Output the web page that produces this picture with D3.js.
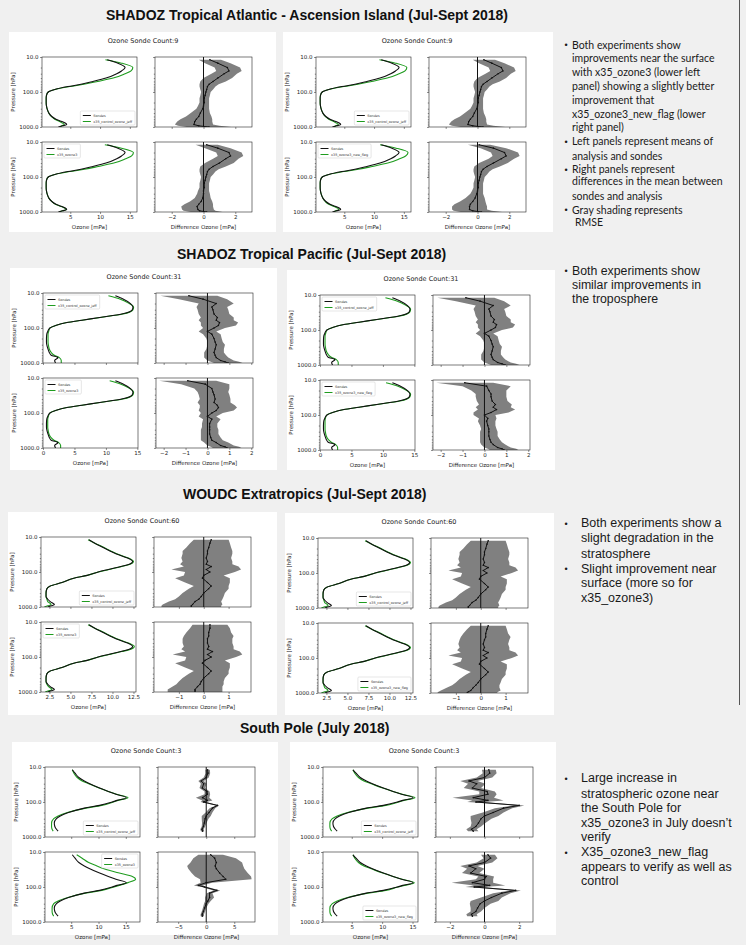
<!DOCTYPE html>
<html>
<head>
<meta charset="utf-8">
<script src="https://cdn.jsdelivr.net/npm/d3@7"></script>
<style>
  body { margin: 0; background: #f0f0f0; }
  svg { display: block; }
</style>
</head>
<body>
<svg id="slide" width="746" height="945"></svg>
<script>
// pressure levels [hPa]
var levels = [12, 15, 20, 25, 30, 40, 50, 60, 70, 85, 100, 125, 150, 200, 250, 300, 400, 500, 600, 700, 850, 925, 1000];
var levelsPole = [12, 15, 20, 25, 30, 40, 50, 60, 75, 90, 100, 125, 150, 200, 250, 300, 400, 500, 600, 680];
var yMajor = [10, 100, 1000];
var yMinor = [20, 30, 40, 50, 60, 70, 80, 90, 200, 300, 400, 500, 600, 700, 800, 900];

var labelCtrl = "x35_control_ozone_jeff", labelOz3 = "x35_ozone3", labelNew = "x35_ozone3_new_flag";

// SHADOZ Tropical Atlantic (mean ozone, mPa)
var atlSonde = [11.2, 13.0, 14.2, 13.6, 12.8, 11.0, 8.8, 6.8, 4.6, 2.4, 1.3, 1.0, 0.95, 0.95, 1.0, 1.1, 1.4, 1.9, 2.6, 3.6, 4.4, 3.7, 3.0];
var atlCtrl = [10.9, 13.6, 15.5, 15.2, 14.2, 12.2, 9.6, 7.3, 4.9, 2.4, 1.3, 1.0, 0.95, 0.95, 1.0, 1.1, 1.4, 1.8, 2.4, 3.2, 4.0, 3.6, 3.3];
var atlOz3 = [10.8, 13.6, 15.6, 15.3, 14.3, 12.3, 9.7, 7.4, 4.9, 2.4, 1.3, 1.0, 0.95, 0.95, 1.0, 1.1, 1.4, 1.9, 2.5, 3.5, 4.3, 3.7, 3.1];
var atlNew = [11.0, 13.7, 15.7, 15.3, 14.3, 12.3, 9.7, 7.4, 4.9, 2.4, 1.3, 1.0, 0.95, 0.95, 1.0, 1.1, 1.4, 1.8, 2.4, 3.3, 4.1, 3.6, 3.2];
var atlCtrlDiff = [0.4, 0.9, 1.5, 1.6, 1.3, 0.9, 0.6, 0.35, 0.25, 0.2, 0.15, 0.1, 0.05, 0.05, 0.0, -0.05, -0.2, -0.3, -0.45, -0.55, -0.6, -0.3, 0.35];
var atlCtrlRmse = [0.7, 0.8, 0.8, 0.8, 0.8, 0.9, 0.8, 0.6, 0.5, 0.4, 0.3, 0.3, 0.3, 0.3, 0.35, 0.4, 0.6, 0.8, 1.0, 1.1, 1.2, 1.3, 1.4];
var atlOz3Diff = [0.2, 0.9, 1.6, 1.7, 1.4, 1.0, 0.6, 0.35, 0.25, 0.2, 0.15, 0.1, 0.05, 0.05, 0.0, 0.0, -0.05, -0.15, -0.3, -0.4, -0.35, -0.25, 0.2];
var atlOz3Rmse = [0.7, 0.8, 0.8, 0.8, 0.8, 0.9, 0.8, 0.6, 0.5, 0.4, 0.3, 0.3, 0.3, 0.3, 0.35, 0.4, 0.5, 0.7, 0.9, 1.0, 1.0, 1.0, 1.0];
var atlNewDiff = [0.1, 1.0, 1.7, 1.8, 1.5, 1.0, 0.6, 0.35, 0.25, 0.2, 0.15, 0.1, 0.05, 0.05, 0.0, -0.05, -0.15, -0.3, -0.45, -0.5, -0.5, -0.3, 0.25];
var atlNewRmse = [0.7, 0.8, 0.85, 0.85, 0.8, 0.9, 0.8, 0.6, 0.5, 0.4, 0.3, 0.3, 0.3, 0.3, 0.35, 0.4, 0.6, 0.8, 1.0, 1.1, 1.1, 1.2, 1.3];

// SHADOZ Tropical Pacific
var pacSonde = [11.5, 12.8, 13.9, 14.3, 14.2, 12.5, 9.0, 6.2, 3.8, 2.0, 1.1, 0.75, 0.6, 0.55, 0.55, 0.6, 0.8, 1.0, 1.3, 2.4, 1.85, 1.9, 2.0];
var pacCtrl = [10.4, 12.3, 13.7, 14.4, 14.3, 12.7, 9.1, 6.2, 3.8, 2.0, 1.1, 0.9, 0.8, 0.8, 0.8, 0.85, 1.0, 1.3, 1.8, 2.6, 2.9, 2.9, 2.9];
var pacOz3 = [10.6, 12.4, 13.8, 14.4, 14.3, 12.7, 9.1, 6.2, 3.8, 2.0, 1.1, 0.85, 0.75, 0.75, 0.75, 0.8, 0.95, 1.25, 1.75, 2.5, 2.8, 2.8, 2.8];
var pacNew = [10.5, 12.4, 13.8, 14.4, 14.3, 12.7, 9.1, 6.2, 3.8, 2.0, 1.1, 0.85, 0.8, 0.8, 0.8, 0.85, 1.0, 1.3, 1.8, 2.5, 2.8, 2.8, 2.8];
var pacCtrlDiff = [-0.85, -0.2, 0.4, 0.2, 0.25, 0.3, 0.45, 0.4, 0.55, 0.5, 0.3, 0.0, 0.2, 0.3, 0.35, 0.4, 0.35, 0.3, 0.35, 0.4, 0.6, 0.8, 0.95];
var pacCtrlRmse = [1.3, 1.1, 0.8, 0.7, 0.7, 0.7, 0.75, 0.8, 0.85, 0.8, 0.5, 0.4, 0.4, 0.35, 0.35, 0.4, 0.4, 0.45, 0.5, 0.55, 0.6, 0.65, 0.65];
var pacOz3Diff = [-0.9, -0.1, 0.2, 0.25, 0.3, 0.35, 0.3, 0.45, 0.5, 0.4, 0.2, 0.0, 0.2, 0.1, 0.1, 0.1, 0.1, 0.15, 0.2, 0.4, 0.6, 0.8, 0.9];
var pacOz3Rmse = [1.3, 1.1, 0.8, 0.7, 0.7, 0.7, 0.75, 0.8, 0.85, 0.8, 0.5, 0.4, 0.4, 0.35, 0.35, 0.4, 0.4, 0.45, 0.5, 0.55, 0.6, 0.65, 0.65];
var pacNewDiff = [-0.9, 0.1, 0.2, 0.3, 0.3, 0.35, 0.5, 0.4, 0.55, 0.3, 0.0, 0.15, 0.1, 0.15, 0.2, 0.2, 0.2, 0.25, 0.3, 0.4, 0.6, 0.8, 0.9];
var pacNewRmse = [1.3, 1.1, 0.8, 0.7, 0.7, 0.7, 0.75, 0.8, 0.85, 0.8, 0.5, 0.4, 0.4, 0.35, 0.35, 0.4, 0.4, 0.45, 0.5, 0.55, 0.6, 0.65, 0.65];

// WOUDC Extratropics
var wouSonde = [7.2, 7.9, 8.9, 9.7, 10.4, 11.8, 12.4, 12.0, 11.0, 9.5, 8.3, 7.0, 5.4, 4.0, 2.6, 2.2, 2.1, 2.1, 2.3, 2.6, 3.1, 2.7, 2.3];
var wouCtrl = [7.1, 7.9, 9.0, 9.8, 10.5, 11.9, 12.5, 12.1, 11.1, 9.6, 8.3, 7.0, 5.4, 4.0, 2.6, 2.2, 2.1, 2.1, 2.2, 2.3, 2.7, 2.3, 1.9];
var wouOz3 = [7.1, 7.9, 9.0, 9.8, 10.5, 11.9, 12.6, 12.2, 11.1, 9.6, 8.3, 7.0, 5.4, 4.0, 2.6, 2.2, 2.1, 2.1, 2.2, 2.4, 2.8, 2.4, 2.0];
var wouNew = [7.1, 7.9, 9.0, 9.8, 10.5, 11.9, 12.5, 12.1, 11.1, 9.6, 8.3, 7.0, 5.4, 4.0, 2.6, 2.2, 2.1, 2.1, 2.2, 2.3, 2.7, 2.3, 1.9];
var wouCtrlDiff = [0.3, 0.25, 0.2, 0.15, 0.15, 0.1, 0.15, 0.1, 0.3, 0.1, 0.25, 0.0, -0.05, 0.15, 0.3, 0.2, 0.0, -0.1, -0.2, -0.35, -0.45, -0.5, -0.5];
var wouCtrlRmse = [0.7, 0.8, 0.9, 1.0, 1.0, 1.0, 1.0, 1.05, 1.1, 1.4, 1.0, 0.8, 1.1, 0.9, 0.7, 0.8, 0.85, 0.9, 0.95, 1.05, 1.2, 1.2, 1.2];
var wouOz3Diff = [0.25, 0.25, 0.2, 0.2, 0.15, 0.15, 0.2, 0.15, 0.35, 0.15, 0.3, 0.05, -0.05, 0.15, 0.3, 0.2, 0.0, -0.1, -0.15, -0.25, -0.35, -0.35, -0.35];
var wouOz3Rmse = [0.7, 0.8, 0.9, 1.0, 1.0, 1.0, 1.0, 1.05, 1.1, 1.4, 1.0, 0.8, 1.1, 0.9, 0.7, 0.8, 0.85, 0.9, 0.95, 1.0, 1.1, 1.1, 1.1];
var wouNewDiff = [0.3, 0.25, 0.2, 0.2, 0.15, 0.1, 0.15, 0.1, 0.3, 0.1, 0.25, 0.0, -0.05, 0.15, 0.3, 0.2, 0.0, -0.1, -0.2, -0.3, -0.4, -0.5, -0.55];
var wouNewRmse = [0.7, 0.8, 0.9, 1.0, 1.0, 1.0, 1.0, 1.05, 1.1, 1.4, 1.0, 0.8, 1.1, 0.9, 0.7, 0.8, 0.85, 0.9, 0.95, 1.05, 1.2, 1.2, 1.2];

// South Pole (July)
var spSonde = [5.2, 5.7, 6.4, 7.4, 8.4, 10.2, 11.8, 13.2, 15.1, 13.4, 12.5, 10.2, 7.4, 4.5, 3.0, 2.3, 1.9, 2.0, 2.3, 2.6];
var spCtrl = [5.2, 5.5, 6.1, 7.0, 8.2, 10.1, 11.8, 13.3, 15.4, 13.6, 12.7, 10.6, 7.7, 4.3, 2.6, 1.8, 1.4, 1.4, 1.5, 1.7];
var spOz3 = [6.0, 7.0, 8.2, 9.7, 11.0, 13.8, 16.2, 16.8, 15.4, 13.8, 12.8, 10.6, 7.6, 4.4, 2.6, 1.8, 1.5, 1.5, 1.6, 1.8];
var spNew = [5.2, 5.5, 6.1, 7.0, 8.2, 10.1, 11.8, 13.3, 15.3, 13.7, 12.6, 10.6, 7.7, 4.3, 2.6, 1.8, 1.4, 1.4, 1.5, 1.7];
var spCtrlDiff = [0.25, 0.3, 0.0, -0.9, -0.45, -0.7, 0.15, 0.2, -0.65, 0.2, -0.5, 2.0, 1.1, 0.5, 0.0, -0.2, -0.35, -0.5, -0.75, -0.65];
var spCtrlRmse = [0.4, 0.4, 0.45, 0.5, 0.5, 0.5, 0.45, 0.5, 1.2, 0.9, 0.5, 0.3, 0.5, 0.6, 0.8, 0.6, 0.4, 0.3, 0.3, 0.3];
var spOz3Diff = [0.8, 1.5, 1.8, 1.6, 1.8, 2.4, 3.0, 3.5, 0.0, -1.4, -0.3, 1.9, 0.6, 0.6, 0.3, 0.0, -0.3, -0.5, -0.7, -0.7];
var spOz3Rmse = [2.2, 3.8, 4.6, 5.0, 5.0, 5.0, 5.0, 4.6, 1.0, 0.8, 0.5, 0.6, 0.5, 0.8, 0.5, 0.4, 0.3, 0.3, 0.3, 0.3];
var spNewDiff = [0.2, 0.35, 0.0, -0.9, -0.5, -0.8, 0.1, 0.0, -0.7, 0.3, -0.6, 1.8, 1.0, 0.4, 0.0, -0.25, -0.4, -0.5, -0.75, -0.7];
var spNewRmse = [0.4, 0.4, 0.45, 0.5, 0.5, 0.5, 0.45, 0.5, 1.2, 0.9, 0.5, 0.3, 0.5, 0.6, 0.8, 0.6, 0.4, 0.3, 0.3, 0.3];

// tick labels
var profTicksAtl = [5, 10, 15], diffTicksAtl = [-2, 0, 2];
var profTicksPac = [0, 5, 10, 15], diffTicksPac = [-2, -1, 0, 1, 2];
var profTicksWou = [2.5, 5.0, 7.5, 10.0, 12.5], diffTicksWou = [-1, 0, 1];
var profTicksSp = [5, 10, 15], diffTicksSpL = [-5, 0, 5], diffTicksSpR = [-2, 0, 2];

var sectionTitles = [
    "SHADOZ Tropical Atlantic - Ascension Island (Jul-Sept 2018)",
    "SHADOZ Tropical Pacific (Jul-Sept 2018)",
    "WOUDC Extratropics (Jul-Sept 2018)",
    "South Pole (July 2018)"
];

var notesAtl = ["Both experiments  show", "improvements near the surface", "with x35_ozone3 (lower left",
    "panel) showing a slightly better", "improvement that", "x35_ozone3_new_flag (lower", "right panel)",
    "Left panels represent means of", "analysis and sondes", "Right panels represent",
    "differences in the mean between", "sondes and analysis", "Gray shading represents", "RMSE"];
var notesPac = ["Both experiments  show", "similar improvements in", "the troposphere"];
var notesWou = ["Both experiments show a", "slight degradation in the", "stratosphere",
    "Slight improvement near", "surface (more so for", "x35_ozone3)"];
var notesSp = ["Large increase in", "stratospheric ozone near", "the South Pole for",
    "x35_ozone3 in July doesn\u2019t", "verify", "X35_ozone3_new_flag", "appears to verify as well as", "control"];

var svg = d3.select("#slide");
var axFont = "DejaVu Sans, sans-serif";
var green = "#1f9c1f";
var clipId = 0;

svg.append("rect").attr("width", 746).attr("height", 945).attr("fill", "#f0f0f0");
svg.append("line").attr("x1", 739.5).attr("x2", 739.5).attr("y1", 0).attr("y2", 705)
    .attr("stroke", "#555").attr("stroke-width", 1);

// section titles
var titlePos = [[106, 20], [177, 259], [183, 499], [240, 733]];
sectionTitles.forEach(function (t, i) {
    svg.append("text")
        .attr("x", titlePos[i][0]).attr("y", titlePos[i][1])
        .style("font", "bold 14px 'Liberation Sans', Arial, sans-serif")
        .attr("fill", "#111")
        .text(t);
});

function styleAxis(sel) {
    sel.select(".domain").remove();
    sel.selectAll("line").attr("stroke", "#222").attr("stroke-width", 0.5);
    sel.selectAll("text").attr("fill", "#222").attr("font-size", 5.5).attr("font-family", axFont);
}

function legend(g, x0, x1, y0, y1, label, pos) {
    var lg = g.append("g");
    var box = lg.append("rect").attr("fill", "#fff").attr("stroke", "#ccc").attr("stroke-width", 0.5)
        .attr("rx", 1).attr("height", 14);
    var t1 = lg.append("text").attr("x", 13).attr("y", 5.6).text("Sondes");
    var t2 = lg.append("text").attr("x", 13).attr("y", 11.6).text(label);
    lg.selectAll("text").attr("font-size", 3.4).attr("font-family", axFont).attr("fill", "#333");
    lg.append("line").attr("x1", 2.5).attr("x2", 10.5).attr("y1", 4.5).attr("y2", 4.5).attr("stroke", "#111").attr("stroke-width", 1);
    lg.append("line").attr("x1", 2.5).attr("x2", 10.5).attr("y1", 10.5).attr("y2", 10.5).attr("stroke", green).attr("stroke-width", 1);
    var w = 13 + Math.max(t1.node().getComputedTextLength(), t2.node().getComputedTextLength()) + 3;
    box.attr("width", w);
    var lx = pos == "ul" ? x0 + 2 : x1 - 2 - w;
    var ly = pos == "lr" ? y1 - 2 - 14 : y0 + 2;
    lg.attr("transform", "translate(" + lx + "," + ly + ")");
}

function drawFigure(f) {
    var g = svg.append("g");
    g.append("rect").attr("x", f.x0).attr("y", f.y0).attr("width", f.w).attr("height", f.h).attr("fill", "#fff");
    g.append("text").attr("x", f.x0 + 134).attr("y", f.y0 + 10.5).attr("text-anchor", "middle")
        .attr("font-size", 6.5).attr("font-family", axFont).attr("fill", "#222")
        .text("Ozone Sonde Count:" + f.count);

    var px0 = f.x0 + 33, px1 = f.x0 + 128, dx0 = f.x0 + 146, dx1 = f.x0 + 243;
    var xProf = d3.scaleLinear().domain(f.profDomain).range([px0, px1]);
    var xDiff = d3.scaleLinear().domain(f.diffDomain).range([dx0, dx1]);

    f.rows.forEach(function (row, i) {
        var top = f.y0 + (i == 0 ? 25 : 110), bottom = top + 70;
        var y = d3.scaleLog().domain([10, 1000]).range([top, bottom]);
        var last = i == f.rows.length - 1;

        // profile panel
        var id1 = "c" + (clipId++);
        g.append("clipPath").attr("id", id1).append("rect")
            .attr("x", px0).attr("y", top).attr("width", px1 - px0).attr("height", 70);
        var prof = g.append("g").attr("clip-path", "url(#" + id1 + ")");
        var line = d3.line().curve(d3.curveMonotoneY)
            .x(function (d) { return xProf(d[1]); })
            .y(function (d) { return y(d[0]); });
        prof.append("path").datum(d3.zip(f.levels, row.model)).attr("d", line)
            .attr("fill", "none").attr("stroke", green).attr("stroke-width", 1.1);
        prof.append("path").datum(d3.zip(f.levels, f.sonde)).attr("d", line)
            .attr("fill", "none").attr("stroke", "#111").attr("stroke-width", 1.1);

        // difference panel
        var id2 = "c" + (clipId++);
        g.append("clipPath").attr("id", id2).append("rect")
            .attr("x", dx0).attr("y", top).attr("width", dx1 - dx0).attr("height", 70);
        var dif = g.append("g").attr("clip-path", "url(#" + id2 + ")");
        var pts = f.levels.map(function (p, k) { return { p: p, m: row.diff[k], r: row.rmse[k] }; });
        dif.append("path").datum(pts)
            .attr("d", d3.area()
                .y(function (d) { return y(d.p); })
                .x0(function (d) { return xDiff(d.m - d.r); })
                .x1(function (d) { return xDiff(d.m + d.r); }))
            .attr("fill", "#808080");
        dif.append("line").attr("x1", xDiff(0)).attr("x2", xDiff(0)).attr("y1", top).attr("y2", bottom)
            .attr("stroke", "#111").attr("stroke-width", 1);
        dif.append("path").datum(pts)
            .attr("d", d3.line().x(function (d) { return xDiff(d.m); }).y(function (d) { return y(d.p); }))
            .attr("fill", "none").attr("stroke", "#111").attr("stroke-width", 1);
        dif.selectAll("circle").data(pts).enter().append("circle")
            .attr("cx", function (d) { return xDiff(d.m); })
            .attr("cy", function (d) { return y(d.p); })
            .attr("r", 0.8).attr("fill", "#111");

        // axes
        [[px0, px1, xProf, f.profTicks, f.profFmt, true], [dx0, dx1, xDiff, f.diffTicks, d3.format("d"), false]]
            .forEach(function (a) {
                g.append("rect").attr("x", a[0]).attr("y", top).attr("width", a[1] - a[0]).attr("height", 70)
                    .attr("fill", "none").attr("stroke", "#222").attr("stroke-width", 0.6);
                g.append("g").attr("transform", "translate(0," + bottom + ")")
                    .call(d3.axisBottom(a[2]).tickValues(a[3]).tickSize(2).tickPadding(1.5)
                        .tickFormat(last ? a[4] : ""))
                    .call(styleAxis);
                g.append("g").attr("transform", "translate(" + a[0] + ",0)")
                    .call(d3.axisLeft(y).tickValues(yMajor).tickSize(2).tickPadding(1.5)
                        .tickFormat(a[5] ? d3.format(".1f") : ""))
                    .call(styleAxis);
                g.append("g").attr("transform", "translate(" + a[0] + ",0)")
                    .call(d3.axisLeft(y).tickValues(yMinor).tickSize(1.2).tickFormat(""))
                    .call(styleAxis);
            });

        g.append("text")
            .attr("transform", "translate(" + (f.x0 + 6) + "," + (top + 35) + ") rotate(-90)")
            .attr("text-anchor", "middle").attr("font-size", 5.5).attr("font-family", axFont).attr("fill", "#222")
            .text("Pressure [hPa]");

        legend(g, px0, px1, top, bottom, row.label, row.legend);

        if (last) {
            g.append("text").attr("x", (px0 + px1) / 2).attr("y", bottom + 16.5).attr("text-anchor", "middle")
                .attr("font-size", 5.5).attr("font-family", axFont).attr("fill", "#222").text("Ozone [mPa]");
            g.append("text").attr("x", (dx0 + dx1) / 2).attr("y", bottom + 16.5).attr("text-anchor", "middle")
                .attr("font-size", 5.5).attr("font-family", axFont).attr("fill", "#222").text("Difference Ozone [mPa]");
        }
    });
}

var fmtInt = d3.format("d"), fmtOne = d3.format(".1f");

var figures = [
    { x0: 9, y0: 32, w: 267, h: 200, count: 9, levels: levels, sonde: atlSonde,
      profDomain: [0.25, 16.2], profTicks: profTicksAtl, profFmt: fmtInt, diffDomain: [-3.05, 3.05], diffTicks: diffTicksAtl,
      rows: [{ model: atlCtrl, label: labelCtrl, diff: atlCtrlDiff, rmse: atlCtrlRmse, legend: "lr" },
             { model: atlOz3, label: labelOz3, diff: atlOz3Diff, rmse: atlOz3Rmse, legend: "ul" }] },
    { x0: 283, y0: 32, w: 270, h: 200, count: 9, levels: levels, sonde: atlSonde,
      profDomain: [0.25, 16.2], profTicks: profTicksAtl, profFmt: fmtInt, diffDomain: [-3.05, 3.05], diffTicks: diffTicksAtl,
      rows: [{ model: atlCtrl, label: labelCtrl, diff: atlCtrlDiff, rmse: atlCtrlRmse, legend: "lr" },
             { model: atlNew, label: labelNew, diff: atlNewDiff, rmse: atlNewRmse, legend: "ul" }] },
    { x0: 10, y0: 268, w: 267, h: 202, count: 31, levels: levels, sonde: pacSonde,
      profDomain: [0, 15.1], profTicks: profTicksPac, profFmt: fmtInt, diffDomain: [-2.35, 2.08], diffTicks: diffTicksPac,
      rows: [{ model: pacCtrl, label: labelCtrl, diff: pacCtrlDiff, rmse: pacCtrlRmse, legend: "ul" },
             { model: pacOz3, label: labelOz3, diff: pacOz3Diff, rmse: pacOz3Rmse, legend: "ul" }] },
    { x0: 287, y0: 270, w: 268, h: 200, count: 31, levels: levels, sonde: pacSonde,
      profDomain: [0, 15.1], profTicks: profTicksPac, profFmt: fmtInt, diffDomain: [-2.35, 2.08], diffTicks: diffTicksPac,
      rows: [{ model: pacCtrl, label: labelCtrl, diff: pacCtrlDiff, rmse: pacCtrlRmse, legend: "ul" },
             { model: pacNew, label: labelNew, diff: pacNewDiff, rmse: pacNewRmse, legend: "ul" }] },
    { x0: 8, y0: 512, w: 269, h: 203, count: 60, levels: levels, sonde: wouSonde,
      profDomain: [1.5, 12.8], profTicks: profTicksWou, profFmt: fmtOne, diffDomain: [-2.0, 1.9], diffTicks: diffTicksWou,
      rows: [{ model: wouCtrl, label: labelCtrl, diff: wouCtrlDiff, rmse: wouCtrlRmse, legend: "lr" },
             { model: wouOz3, label: labelOz3, diff: wouOz3Diff, rmse: wouOz3Rmse, legend: "ul" }] },
    { x0: 285, y0: 513, w: 269, h: 202, count: 60, levels: levels, sonde: wouSonde,
      profDomain: [1.5, 12.8], profTicks: profTicksWou, profFmt: fmtOne, diffDomain: [-2.0, 1.9], diffTicks: diffTicksWou,
      rows: [{ model: wouCtrl, label: labelCtrl, diff: wouCtrlDiff, rmse: wouCtrlRmse, legend: "lr" },
             { model: wouNew, label: labelNew, diff: wouNewDiff, rmse: wouNewRmse, legend: "lr" }] },
    { x0: 12, y0: 742, w: 266, h: 193, count: 3, levels: levelsPole, sonde: spSonde,
      profDomain: [0.2, 17.6], profTicks: profTicksSp, profFmt: fmtInt, diffDomain: [-8.6, 8.7], diffTicks: diffTicksSpL,
      rows: [{ model: spCtrl, label: labelCtrl, diff: spCtrlDiff, rmse: spCtrlRmse, legend: "lr" },
             { model: spOz3, label: labelOz3, diff: spOz3Diff, rmse: spOz3Rmse, legend: "ur" }] },
    { x0: 290, y0: 742, w: 266, h: 193, count: 3, levels: levelsPole, sonde: spSonde,
      profDomain: [0.27, 15.9], profTicks: profTicksSp, profFmt: fmtInt, diffDomain: [-2.8, 2.8], diffTicks: diffTicksSpR,
      rows: [{ model: spCtrl, label: labelCtrl, diff: spCtrlDiff, rmse: spCtrlRmse, legend: "lr" },
             { model: spNew, label: labelNew, diff: spNewDiff, rmse: spNewRmse, legend: "lr" }] }
];

figures.forEach(drawFigure);

// bullet notes on the right
var sansFont = "'Liberation Sans', Arial, sans-serif";
var noteBlocks = [
    { lines: notesAtl, font: "Lato, sans-serif", size: 10.5, textX: 572, bullets: [0, 7, 9, 12],
      ys: [48.5, 62, 76, 89.5, 103.5, 118, 131, 145, 159.5, 173, 185, 199.5, 213.5, 226], dedent: { 13: 575 } },
    { lines: notesPac, font: sansFont, size: 12.3, textX: 572, bullets: [0],
      ys: [274.5, 288.5, 303], dedent: {} },
    { lines: notesWou, font: sansFont, size: 12.5, textX: 581, bullets: [0, 3],
      ys: [527, 541.5, 557.5, 572.5, 587, 601.5], dedent: {} },
    { lines: notesSp, font: sansFont, size: 12.5, textX: 581, bullets: [0, 5],
      ys: [782, 797.5, 812, 826.5, 841, 856, 870.5, 885], dedent: {} }
];

noteBlocks.forEach(function (b) {
    var g = svg.append("g").attr("font-family", b.font).attr("font-size", b.size).attr("fill", "#1a1a1a");
    b.lines.forEach(function (t, i) {
        g.append("text").attr("x", b.dedent[i] || b.textX).attr("y", b.ys[i]).text(t);
        if (b.bullets.indexOf(i) >= 0) {
            g.append("text").attr("x", 566).attr("y", b.ys[i] - 0.5).attr("text-anchor", "middle")
                .attr("font-family", sansFont).attr("font-size", 9).text("\u2022");
        }
    });
});
</script>
</body>
</html>
